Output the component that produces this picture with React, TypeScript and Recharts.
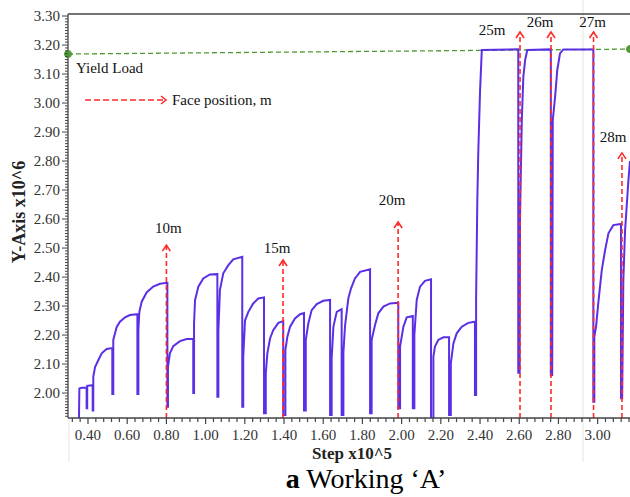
import React from 'react';
import { LineChart, Line, XAxis, YAxis, ReferenceLine, ReferenceDot } from 'recharts';

// Step x10^5
const stepX = [
  0.354, 0.356, 0.368, 0.393, 0.393, 0.396, 0.396, 0.424, 0.424, 0.427,
  0.427, 0.436, 0.453, 0.470, 0.495, 0.524, 0.524, 0.529, 0.529, 0.538,
  0.546, 0.563, 0.589, 0.614, 0.652, 0.652, 0.657, 0.657, 0.662, 0.674,
  0.699, 0.733, 0.767, 0.805, 0.805, 0.808, 0.808, 0.818, 0.835, 0.869,
  0.904, 0.937, 0.937, 0.941, 0.941, 0.946, 0.963, 0.988, 1.022, 1.060,
  1.060, 1.065, 1.065, 1.073, 1.090, 1.116, 1.141, 1.187, 1.187, 1.192,
  1.192, 1.201, 1.218, 1.243, 1.269, 1.298, 1.298, 1.307, 1.307, 1.315,
  1.329, 1.345, 1.371, 1.396, 1.396, 1.407, 1.407, 1.417, 1.431, 1.456,
  1.482, 1.502, 1.502, 1.511, 1.511, 1.524, 1.541, 1.567, 1.600, 1.635,
  1.635, 1.643, 1.643, 1.652, 1.669, 1.694, 1.694, 1.703, 1.703, 1.711,
  1.728, 1.742, 1.762, 1.788, 1.839, 1.839, 1.847, 1.847, 1.864, 1.881,
  1.907, 1.941, 1.983, 1.983, 1.992, 1.992, 2.009, 2.026, 2.057, 2.057,
  2.065, 2.065, 2.077, 2.094, 2.119, 2.150, 2.150, 2.162, 2.162, 2.170,
  2.187, 2.213, 2.242, 2.242, 2.251, 2.251, 2.264, 2.281, 2.307, 2.340,
  2.374, 2.374, 2.380, 2.380, 2.386, 2.391, 2.400, 2.409, 2.595, 2.595,
  2.602, 2.604, 2.613, 2.621, 2.630, 2.641, 2.761, 2.761, 2.768, 2.771,
  2.783, 2.794, 2.808, 2.825, 2.978, 2.978, 2.983, 2.983, 2.992, 3.003,
  3.021, 3.038, 3.055, 3.080, 3.119, 3.119, 3.125, 3.131, 3.140, 3.157, 3.165,
];

// Y-Axis x10^6
const loadY = [
  1.914, 2.016, 2.018, 2.018, 1.948, 1.948, 2.025, 2.027, 1.940, 1.940,
  2.056, 2.090, 2.114, 2.137, 2.152, 2.155, 1.997, 1.997, 2.183, 2.206,
  2.227, 2.246, 2.261, 2.269, 2.272, 1.997, 1.997, 2.217, 2.280, 2.315,
  2.347, 2.367, 2.377, 2.380, 1.953, 1.953, 2.090, 2.137, 2.162, 2.179,
  2.186, 2.187, 2.000, 2.000, 2.240, 2.320, 2.367, 2.395, 2.409, 2.410,
  1.987, 1.987, 2.211, 2.355, 2.413, 2.441, 2.461, 2.470, 1.953, 1.953,
  2.125, 2.250, 2.280, 2.309, 2.326, 2.330, 1.930, 1.930, 2.068, 2.137,
  2.189, 2.217, 2.242, 2.248, 1.924, 1.924, 2.148, 2.194, 2.229, 2.257,
  2.272, 2.276, 1.940, 1.940, 2.183, 2.240, 2.286, 2.307, 2.318, 2.321,
  1.924, 1.924, 2.120, 2.229, 2.280, 2.289, 1.924, 1.924, 2.140, 2.230,
  2.326, 2.361, 2.395, 2.418, 2.427, 1.930, 1.930, 2.183, 2.234, 2.275,
  2.298, 2.309, 2.311, 1.948, 1.948, 2.160, 2.229, 2.261, 2.266, 1.948,
  1.948, 2.200, 2.321, 2.367, 2.387, 2.392, 1.914, 1.914, 2.125, 2.160,
  2.183, 2.192, 2.192, 1.924, 1.924, 2.102, 2.171, 2.206, 2.229, 2.242,
  2.246, 1.993, 1.993, 2.330, 2.660, 2.830, 3.040, 3.183, 3.185, 2.070,
  2.070, 2.600, 2.941, 3.091, 3.148, 3.183, 3.185, 2.062, 2.062, 2.941,
  3.022, 3.114, 3.171, 3.185, 3.185, 1.970, 1.970, 2.194, 2.229, 2.309,
  2.424, 2.493, 2.551, 2.579, 2.583, 1.982, 1.982, 2.390, 2.562, 2.734, 2.800,
];

const xTickLabels = ['0.40', '0.60', '0.80', '1.00', '1.20', '1.40', '1.60', '1.80', '2.00', '2.20', '2.40', '2.60', '2.80', '3.00'];
const yTickLabels = ['2.00', '2.10', '2.20', '2.30', '2.40', '2.50', '2.60', '2.70', '2.80', '2.90', '3.00', '3.10', '3.20', '3.30'];

const faceLabels = ['10m', '15m', '20m', '25m', '26m', '27m', '28m'];
const faceSteps = [0.800, 1.395, 1.982, 2.604, 2.762, 2.979, 3.124];
const faceTips = [2.510, 2.459, 2.590, 3.245, 3.245, 3.245, 2.828];
// label offsets (px) relative to the arrow tip
const faceLabelOffsets = [[2, -12], [-6, -7], [-6, -17], [-28, 3], [-11, -5], [-1, -5], [-9, -11]];

const yieldLoadStart = 3.169;
const yieldLoadEnd = 3.186;

const X_MIN = 0.298;
const X_MAX = 3.165;
const Y_MIN = 1.914;
const Y_MAX = 3.307;

const FONT = '"Liberation Serif", "Times New Roman", serif';
const LINE_COLOR = '#5a2fe6';
const RED = '#ff2a2a';
const GREEN = '#4e9a35';
const AXIS = '#444';
const TEXT = '#333';

const data = stepX.map((x, i) => ({ x, y: loadY[i] }));

const xMajor = xTickLabels.map(Number);
const yMajor = yTickLabels.map(Number);

const xTicks: number[] = [];
for (let k = 0; ; k++) {
  const v = Math.round((0.32 + 0.04 * k) * 100) / 100;
  if (v > X_MAX) break;
  xTicks.push(v);
}
const yTicks: number[] = [];
for (let k = 0; ; k++) {
  const v = Math.round((1.92 + 0.01 * k) * 100) / 100;
  if (v > 3.305) break;
  yTicks.push(v);
}

const XTick = (props: any) => {
  const { x, y, payload } = props;
  const idx = xMajor.findIndex((m) => Math.abs(m - payload.value) < 1e-6);
  const major = idx >= 0;
  return (
    <g>
      <line x1={x} y1={y} x2={x} y2={y + (major ? 6 : 4)} stroke={AXIS} strokeWidth={1.2} />
      {major && (
        <text x={x} y={y + 22} textAnchor="middle" fontFamily={FONT} fontSize={15} fill={TEXT}>
          {xTickLabels[idx]}
        </text>
      )}
    </g>
  );
};

const YTick = (props: any) => {
  const { x, y, payload } = props;
  const idx = yMajor.findIndex((m) => Math.abs(m - payload.value) < 1e-6);
  const major = idx >= 0;
  return (
    <g>
      <line x1={x} y1={y} x2={x - (major ? 6 : 3)} y2={y} stroke={AXIS} strokeWidth={1} />
      {major && (
        <text x={x - 8} y={y + 5} textAnchor="end" fontFamily={FONT} fontSize={15} fill={TEXT}>
          {yTickLabels[idx]}
        </text>
      )}
    </g>
  );
};

const makeArrowHead = (label: string, off: number[]) => (props: any) => {
  const { cx, cy } = props;
  return (
    <g>
      <path d={`M${cx - 4},${cy + 6} L${cx},${cy} L${cx + 4},${cy + 6}`} fill="none" stroke={RED} strokeWidth={1.6} />
      <text x={cx + off[0]} y={cy + off[1]} textAnchor="middle" fontFamily={FONT} fontSize={15} fill="#111">
        {label}
      </text>
    </g>
  );
};

export default function App() {
  return (
    <div style={{ position: 'absolute', left: 0, top: 0, width: 630, height: 497, background: '#fff' }}>
      <svg width={630} height={497} style={{ position: 'absolute', left: 0, top: 0 }}>
        <line x1={583} y1={0} x2={583} y2={462} stroke="#e4e4e4" strokeWidth={1} />
        <line x1={69} y1={418} x2={69} y2={462} stroke="#e4e4e4" strokeWidth={1} />
      </svg>
      <div style={{ position: 'absolute', left: 0, top: 0 }}>
        <LineChart width={630} height={497} data={data} margin={{ top: 14, right: 0, bottom: 0, left: 0 }}>
          <XAxis
            dataKey="x"
            type="number"
            domain={[X_MIN, X_MAX]}
            ticks={xTicks}
            interval={0}
            tick={<XTick />}
            tickLine={false}
            tickSize={0}
            tickMargin={0}
            height={79}
            axisLine={{ stroke: AXIS, strokeWidth: 1.3 }}
            allowDataOverflow
          />
          <YAxis
            type="number"
            domain={[Y_MIN, Y_MAX]}
            ticks={yTicks}
            interval={0}
            tick={<YTick />}
            tickLine={false}
            tickSize={0}
            tickMargin={0}
            width={68}
            axisLine={{ stroke: AXIS, strokeWidth: 1.3 }}
            allowDataOverflow
          />
          <ReferenceLine y={Y_MAX} stroke={AXIS} strokeWidth={1.3} ifOverflow="visible" />
          <ReferenceLine
            segment={[{ x: X_MIN, y: yieldLoadStart }, { x: X_MAX, y: yieldLoadEnd }]}
            stroke={GREEN}
            strokeWidth={1.3}
            strokeDasharray="5 3"
            ifOverflow="visible"
          />
          <ReferenceDot x={X_MIN} y={yieldLoadStart} r={3.5} fill={GREEN} stroke={GREEN} ifOverflow="visible" />
          <ReferenceDot x={X_MAX} y={yieldLoadEnd} r={3.5} fill={GREEN} stroke={GREEN} ifOverflow="visible" />
          <Line
            type="linear"
            dataKey="y"
            stroke={LINE_COLOR}
            strokeWidth={2}
            dot={false}
            isAnimationActive={false}
          />
          {faceSteps.map((s, i) => (
            <ReferenceLine
              key={'fl' + i}
              segment={[{ x: s, y: Y_MIN }, { x: s, y: faceTips[i] }]}
              stroke={RED}
              strokeWidth={1.6}
              strokeDasharray="5 3"
              ifOverflow="visible"
            />
          ))}
          {faceSteps.map((s, i) => (
            <ReferenceDot
              key={'fd' + i}
              x={s}
              y={faceTips[i]}
              r={1}
              ifOverflow="visible"
              shape={makeArrowHead(faceLabels[i], faceLabelOffsets[i])}
            />
          ))}
        </LineChart>
      </div>
      <svg width={630} height={497} style={{ position: 'absolute', left: 0, top: 0, pointerEvents: 'none' }}>
        <text x={76} y={73} fontFamily={FONT} fontSize={15} fill="#111">Yield Load</text>
        <line x1={85} y1={100} x2={164} y2={100} stroke={RED} strokeWidth={1.6} strokeDasharray="6 3" />
        <path d="M161,96 L166,100 L161,104" fill="none" stroke={RED} strokeWidth={1.6} />
        <text x={172} y={105} fontFamily={FONT} fontSize={15} fill="#111">Face position, m</text>
        <text
          x={0}
          y={0}
          transform="translate(25,212) rotate(-90)"
          textAnchor="middle"
          fontFamily={FONT}
          fontSize={18}
          fontWeight="bold"
          fill="#222"
        >
          Y-Axis x10^6
        </text>
        <text x={352} y={459} textAnchor="middle" fontFamily={FONT} fontSize={17} fontWeight="bold" fill="#222">
          Step x10^5
        </text>
        <text x={366} y={488} textAnchor="middle" fontFamily={FONT} fontSize={28} fill="#000">
          <tspan fontWeight="bold">a</tspan> Working ‘A’
        </text>
      </svg>
    </div>
  );
}
